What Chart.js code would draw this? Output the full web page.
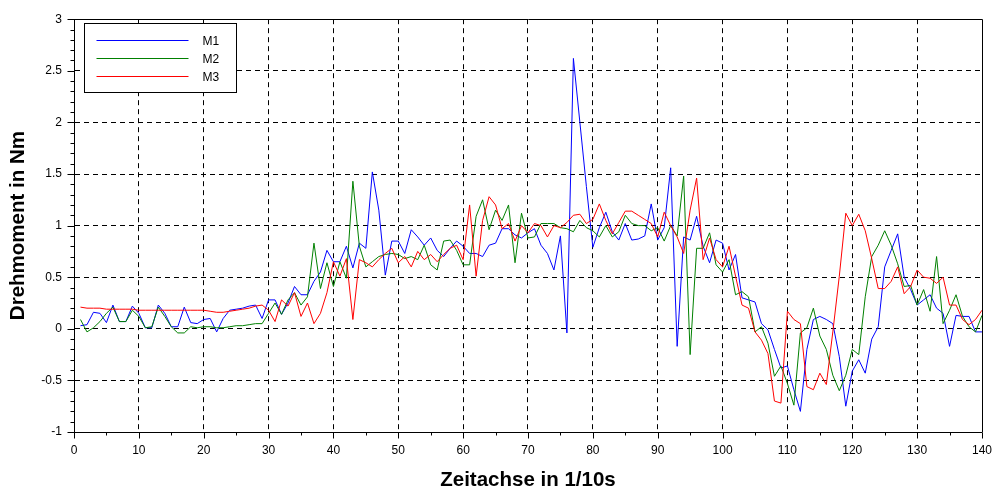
<!DOCTYPE html>
<html lang="de">
<head>
<meta charset="UTF-8">
<title>Drehmoment M1 M2 M3</title>
<script src="https://cdn.jsdelivr.net/npm/chart.js"></script>
<style>
  body { margin: 0; background: #fff; }
</style>
</head>
<body>
<canvas id="drehmoment" width="1003" height="491"></canvas>
<script>
// Messwerte in Nm, ein Wert je 1/10 s (Zeitpunkt 1..140)
const m1 = [
  0.03, 0.04, 0.16, 0.15, 0.06, 0.23, 0.07, 0.07, 0.22, 0.15,
  0.01, 0.01, 0.23, 0.15, 0.02, 0.02, 0.21, 0.06, 0.05, 0.09,
  0.10, -0.03, 0.10, 0.18, 0.19, 0.20, 0.22, 0.23, 0.10, 0.28,
  0.28, 0.14, 0.25, 0.41, 0.33, 0.33, 0.46, 0.55, 0.76, 0.65,
  0.65, 0.80, 0.59, 0.83, 0.78, 1.52, 1.15, 0.52, 0.85, 0.85,
  0.73, 0.96, 0.89, 0.81, 0.88, 0.76, 0.70, 0.78, 0.85, 0.80,
  0.73, 0.73, 0.70, 0.81, 0.83, 0.97, 0.97, 0.91, 0.88, 0.93,
  0.97, 0.81, 0.73, 0.57, 0.90, -0.04, 2.62, 2.00, 1.38, 0.79,
  0.98, 1.13, 0.94, 0.86, 1.02, 0.86, 0.87, 0.90, 1.21, 0.86,
  0.98, 1.56, -0.17, 0.89, 0.86, 1.09, 0.80, 0.64, 0.86, 0.83,
  0.57, 0.72, 0.30, 0.28, 0.26, 0.05, -0.01, -0.20, -0.38, -0.36,
  -0.59, -0.80, -0.20, 0.09, 0.12, 0.09, 0.05, -0.27, -0.75, -0.41,
  -0.30, -0.43, -0.10, 0.02, 0.60, 0.76, 0.92, 0.50, 0.38, 0.23,
  0.28, 0.33, 0.20, 0.15, -0.17, 0.13, 0.12, 0.12, -0.03, -0.03
];
const m2 = [
  0.09, -0.03, 0.01, 0.07, 0.15, 0.21, 0.07, 0.07, 0.18, 0.12,
  0.01, 0.02, 0.21, 0.12, 0.02, -0.04, -0.04, 0.02, 0.01, 0.02,
  0.02, 0.01, 0.01, 0.02, 0.03, 0.03, 0.04, 0.05, 0.05, 0.15,
  0.25, 0.14, 0.28, 0.35, 0.23, 0.31, 0.83, 0.39, 0.64, 0.41,
  0.65, 0.49, 1.43, 0.80, 0.60, 0.65, 0.70, 0.72, 0.73, 0.72,
  0.68, 0.70, 0.67, 0.81, 0.62, 0.57, 0.85, 0.86, 0.76, 0.62,
  0.62, 1.09, 1.25, 0.96, 1.15, 1.05, 1.20, 0.64, 1.12, 0.88,
  0.89, 1.02, 1.02, 1.02, 0.98, 0.97, 0.94, 1.05, 0.98, 0.95,
  0.89, 1.00, 0.89, 0.94, 1.10, 1.02, 1.00, 1.00, 0.95, 0.98,
  0.85, 1.00, 0.90, 1.48, -0.25, 0.78, 0.78, 0.93, 0.62, 0.55,
  0.67, 0.33, 0.36, 0.31, -0.03, 0.02, -0.14, -0.46, -0.36, -0.53,
  -0.74, -0.04, 0.01, 0.20, -0.07, -0.20, -0.45, -0.60, -0.45, -0.20,
  -0.25, 0.31, 0.70, 0.81, 0.95, 0.81, 0.63, 0.41, 0.42, 0.23,
  0.38, 0.17, 0.70, 0.05, 0.18, 0.33, 0.12, 0.02, -0.03, 0.13
];
const m3 = [
  0.21, 0.20, 0.20, 0.20, 0.19, 0.19, 0.19, 0.19, 0.19, 0.18,
  0.18, 0.18, 0.18, 0.18, 0.18, 0.18, 0.18, 0.18, 0.18, 0.18,
  0.17, 0.16, 0.16, 0.17, 0.18, 0.19, 0.20, 0.22, 0.23, 0.18,
  0.07, 0.28, 0.22, 0.35, 0.12, 0.25, 0.05, 0.15, 0.35, 0.65,
  0.51, 0.68, 0.09, 0.67, 0.64, 0.60, 0.67, 0.73, 0.78, 0.64,
  0.70, 0.60, 0.75, 0.67, 0.72, 0.65, 0.72, 0.78, 0.81, 0.67,
  1.20, 0.51, 1.05, 1.28, 1.20, 0.97, 1.02, 0.85, 1.00, 0.93,
  1.02, 1.00, 0.89, 1.00, 0.98, 1.03, 1.10, 1.11, 1.02, 1.06,
  1.21, 1.05, 0.92, 1.03, 1.14, 1.14, 1.10, 1.06, 1.02, 0.89,
  1.13, 1.00, 0.89, 0.73, 1.15, 1.46, 0.67, 0.88, 0.67, 0.60,
  0.80, 0.51, 0.23, 0.20, -0.03, -0.11, -0.24, -0.70, -0.72, 0.17,
  0.09, 0.05, -0.56, -0.59, -0.43, -0.54, -0.03, 0.51, 1.12, 1.00,
  1.11, 0.95, 0.68, 0.39, 0.39, 0.46, 0.60, 0.34, 0.41, 0.57,
  0.50, 0.49, 0.44, 0.50, 0.23, 0.23, 0.09, 0.04, 0.09, 0.18
];
const xTicks = [0, 10, 20, 30, 40, 50, 60, 70, 80, 90, 100, 110, 120, 130, 140];
const yTicks = [-1, -0.5, 0, 0.5, 1, 1.5, 2, 2.5, 3];

const schrift = "'Liberation Sans', Arial, sans-serif";

function punkte(werte) {
  return werte.map((v, i) => ({ x: i + 1, y: v }));
}

// Rahmen oben/rechts, Teilstriche und Legende wie im Scilab-Plot
const rahmen = {
  id: 'rahmen',
  afterDraw(chart) {
    const { ctx, chartArea: a, scales: { x, y } } = chart;
    const px = v => Math.round(v) + 0.5;
    ctx.save();
    ctx.strokeStyle = '#000';
    ctx.lineWidth = 1;
    ctx.beginPath();
    ctx.moveTo(px(a.left), px(a.top));
    ctx.lineTo(px(a.right), px(a.top));
    ctx.lineTo(px(a.right), px(a.bottom));
    // y-Teilstriche: gross alle 0.5, klein alle 0.1
    for (let i = 0; i <= 40; i++) {
      const v = y.min + i * 0.1;
      const yy = px(y.getPixelForValue(v));
      const len = i % 5 === 0 ? 7 : 4;
      ctx.moveTo(px(a.left) - len, yy);
      ctx.lineTo(px(a.left), yy);
    }
    // x-Teilstriche: gross alle 10, klein alle 5
    for (let v = x.min; v <= x.max; v += 5) {
      const xx = px(x.getPixelForValue(v));
      const len = v % 10 === 0 ? 6 : 3;
      ctx.moveTo(xx, px(a.bottom));
      ctx.lineTo(xx, px(a.bottom) + len);
    }
    ctx.stroke();

    // Legende
    const lx = px(a.left + 10), ly = px(a.top + 4);
    ctx.fillStyle = '#fff';
    ctx.fillRect(lx, ly, 152, 69);
    ctx.strokeRect(lx, ly, 152, 69);
    ctx.font = '12px ' + schrift;
    ctx.textBaseline = 'middle';
    ctx.textAlign = 'left';
    chart.data.datasets.forEach((ds, i) => {
      const zy = ly + 17 + i * 18;
      ctx.strokeStyle = ds.borderColor;
      ctx.beginPath();
      ctx.moveTo(lx + 12, zy);
      ctx.lineTo(lx + 104, zy);
      ctx.stroke();
      ctx.fillStyle = '#000';
      ctx.fillText(ds.label, lx + 118, zy + 1);
    });
    ctx.restore();
  }
};

const gitterFarbe = (ctx, grenzen) =>
  ctx.tick && grenzen.includes(ctx.tick.value) ? 'rgba(0,0,0,0)' : '#000';

new Chart(document.getElementById('drehmoment'), {
  type: 'line',
  data: {
    datasets: [
      { label: 'M1', data: punkte(m1), borderColor: '#0000ff', order: 3 },
      { label: 'M2', data: punkte(m2), borderColor: '#008000', order: 2 },
      { label: 'M3', data: punkte(m3), borderColor: '#ff0000', order: 1 }
    ]
  },
  options: {
    responsive: false,
    animation: false,
    layout: { padding: { top: 16, right: 11, left: 0, bottom: 0 } },
    elements: {
      point: { radius: 0 },
      line: { tension: 0, borderWidth: 1, fill: false }
    },
    plugins: {
      legend: { display: false },
      tooltip: { enabled: false }
    },
    scales: {
      x: {
        type: 'linear',
        min: 0,
        max: 140,
        afterBuildTicks: s => { s.ticks = xTicks.map(v => ({ value: v })); },
        afterFit: s => { s.height = 59; },
        ticks: { color: '#000', padding: 11, autoSkip: false, maxRotation: 0,
                 callback: v => String(v),
                 font: { family: schrift, size: 12 } },
        grid: { color: c => gitterFarbe(c, [0, 140]), drawTicks: false },
        border: { display: true, color: '#000', dash: [5, 4] },
        title: {
          display: true,
          text: 'Zeitachse in 1/10s',
          color: '#000',
          font: { family: schrift, size: 20.5, weight: 'bold', lineHeight: 1 },
          padding: { top: 0, bottom: 0 }
        }
      },
      y: {
        min: -1,
        max: 3,
        afterBuildTicks: s => { s.ticks = yTicks.map(v => ({ value: v })); },
        afterFit: s => { s.width = 74; },
        ticks: { color: '#000', padding: 12, callback: v => String(v),
                 font: { family: schrift, size: 12 } },
        grid: { color: c => gitterFarbe(c, [-1, 3]), drawTicks: false },
        border: { display: true, color: '#000', dash: [5, 4] },
        title: {
          display: true,
          text: 'Drehmoment in Nm',
          color: '#000',
          font: { family: schrift, size: 20.5, weight: 'bold', lineHeight: 1 },
          padding: { top: 8, bottom: 0 }
        }
      }
    }
  },
  plugins: [rahmen]
});
</script>
</body>
</html>
